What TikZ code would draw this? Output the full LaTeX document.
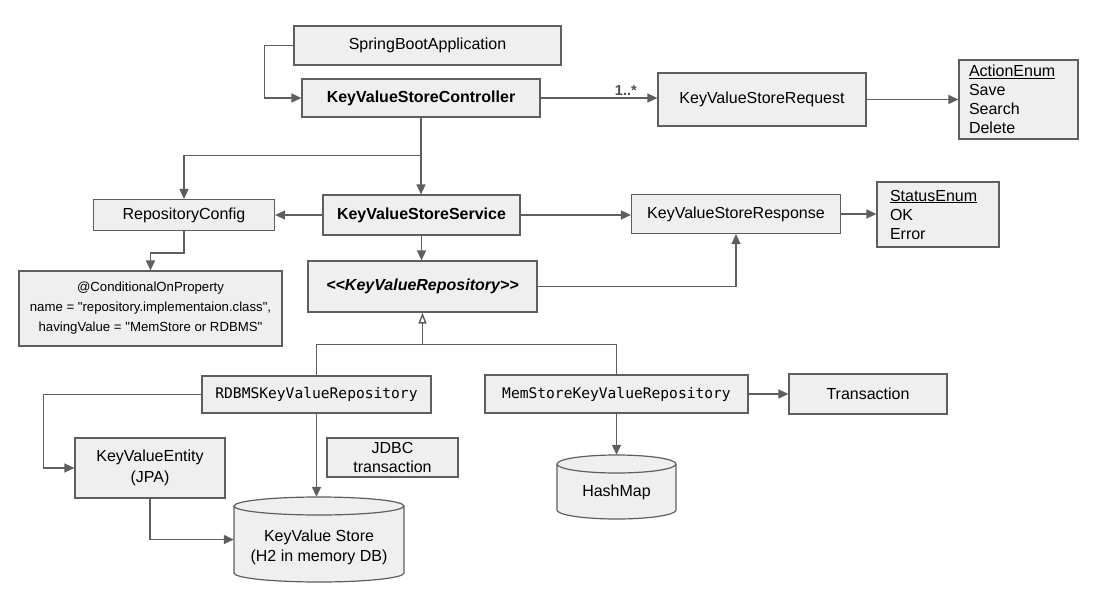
\documentclass[tikz,border=0pt]{standalone}
\usepackage{fontspec}
\setmainfont{Liberation Sans}[Ligatures=TeXOff]
\newfontfamily\codefont{DejaVu Sans Mono}
\usetikzlibrary{arrows.meta,calc}
\definecolor{linegray}{HTML}{5E5E5E}
\definecolor{boxgray}{HTML}{EFEFEF}
\definecolor{lblgray}{HTML}{505050}
\begin{document}
\begin{tikzpicture}[x=1pt,y=-1pt,
  umlbox/.style={draw=linegray, fill=boxgray, line width=1.2pt, inner sep=0pt, align=center, font=\fontsize{16}{19}\selectfont},
  enumbox/.style={umlbox, align=left},
  codebox/.style={umlbox, font=\codefont\fontsize{14.6}{18}\selectfont},
  conn/.style={draw=linegray, line width=1.4pt},
  arr/.style={conn, -{Triangle[length=10pt,width=9pt]}},
  inh/.style={conn, -{Triangle[open,length=11pt,width=8pt,fill=white]}},
  cyl/.style={draw=linegray, fill=boxgray, line width=1.2pt},
  anchorbox/.style={inner sep=0pt, draw=none, fill=none}
]
\fill[white] (0,0) rectangle (1109,592);
\useasboundingbox (0,0) rectangle (1109,592);

% boxes
\node[umlbox, minimum width=267pt, minimum height=39pt] (spring) at (427.5,45.5) {SpringBootApplication};
\node[umlbox, minimum width=238pt, minimum height=38pt] (ctrl) at (421,98) {\textbf{KeyValueStoreController}};
\node[umlbox, minimum width=208pt, minimum height=53pt] (req) at (762,99.5) {KeyValueStoreRequest};
\node[enumbox, minimum height=79pt, text width=99pt, inner xsep=10pt] (enum) at (1018.5,99.5) {\underline{ActionEnum}\\Save\\Search\\Delete};

\node[umlbox, minimum width=181pt, minimum height=31pt] (cfg) at (184,215) {RepositoryConfig};
\node[umlbox, minimum width=197pt, minimum height=40pt] (svc) at (421.5,215) {\textbf{KeyValueStoreService}};
\node[umlbox, minimum width=209pt, minimum height=39pt] (resp) at (736,214) {KeyValueStoreResponse};
\node[enumbox, minimum height=65pt, text width=96pt, inner xsep=13pt] (status) at (938,214.5) {\underline{StatusEnum}\\OK\\Error};

\node[umlbox, minimum width=263pt, minimum height=75pt, font=\fontsize{13.2}{20}\selectfont] (cond) at (150.5,308.5) {@ConditionalOnProperty\\name = "repository.implementaion.class",\\havingValue = "MemStore or RDBMS"};
\node[umlbox, minimum width=229pt, minimum height=51pt] (repo) at (422.5,286.5) {\textbf{\textit{<<KeyValueRepository>>}}};

\node[codebox, minimum width=229pt, minimum height=37pt] (rdbms) at (316.5,394.5) {RDBMSKeyValueRepository};
\node[codebox, minimum width=263pt, minimum height=38pt] (mem) at (616.5,394) {MemStoreKeyValueRepository};
\node[umlbox, minimum width=158pt, minimum height=40pt] (trans) at (868,394) {Transaction};

\node[umlbox, minimum width=150pt, minimum height=60pt, font=\fontsize{16}{21}\selectfont] (entity) at (150,468) {KeyValueEntity\\(JPA)};
\node[umlbox, minimum width=131pt, minimum height=39pt] (jdbc) at (392.5,457.5) {JDBC\\transaction};

% cylinders
\filldraw[cyl] (234,506) -- (234,573) arc[start angle=180, end angle=360, x radius=85pt, y radius=9pt] -- (404,506) arc[start angle=0, end angle=180, x radius=85pt, y radius=9pt] -- cycle;
\draw[cyl, fill=none] (234,506) arc[start angle=180, end angle=360, x radius=85pt, y radius=9pt];
\node[anchorbox, minimum width=170pt, minimum height=85pt] (kvs) at (319,539.5) {};
\node[anchorbox, align=center, font=\fontsize{16}{19.5}\selectfont] (kvslabel) at (319,547.5) {KeyValue Store\\(H2 in memory DB)};

\filldraw[cyl] (557,464) -- (557,510) arc[start angle=180, end angle=360, x radius=59.5pt, y radius=9pt] -- (676,464) arc[start angle=0, end angle=180, x radius=59.5pt, y radius=9pt] -- cycle;
\draw[cyl, fill=none] (557,464) arc[start angle=180, end angle=360, x radius=59.5pt, y radius=9pt];
\node[anchorbox, minimum width=119pt, minimum height=64pt] (hash) at (616.5,487) {};
\node[anchorbox, font=\fontsize{16}{19}\selectfont] (hashlabel) at (616.5,492) {HashMap};

% connectors
\draw[arr] (spring.west) -- ++(-29,0) |- (ctrl.west);
\draw[arr] (ctrl.east) -- (ctrl.east -| req.west) node[pos=0.73, above, inner sep=2pt, text=lblgray, font=\bfseries\fontsize{14.5}{16}\selectfont] {1..*};
\draw[arr] (req.east) -- (req.east -| enum.west);

\draw[conn] (ctrl.south) -- ++(0,38) coordinate (split);
\draw[arr] (split) -| (cfg.north);
\draw[arr] (split) -- (split |- svc.north);
\draw[arr] (svc.west) -- (svc.west -| cfg.east);
\draw[arr] (svc.east) -- (svc.east -| resp.west);
\draw[arr] (resp.east) -- (resp.east -| status.west);
\draw[arr] (svc.south) -- (svc.south |- repo.north);
\draw[arr] (cfg.south) -- ++(0,22) -| (cond.north);
\draw[arr] (repo.east) -| (resp.south);

\coordinate (inhj) at ($(repo.south)+(0,32)$);
\draw[conn] (rdbms.north) |- (mem.north |- inhj) -- (mem.north);
\draw[inh] (inhj) -- (repo.south);

\draw[arr] (rdbms.west) -- ++(-158,0) |- (entity.west);
\draw[arr] (rdbms.south) -- (rdbms.south |- kvs.north);
\draw[arr] (entity.south) |- (kvs.west);
\draw[arr] (mem.south) -- (mem.south |- hash.north);
\draw[arr] (mem.east) -- (mem.east -| trans.west);
\end{tikzpicture}
\end{document}
